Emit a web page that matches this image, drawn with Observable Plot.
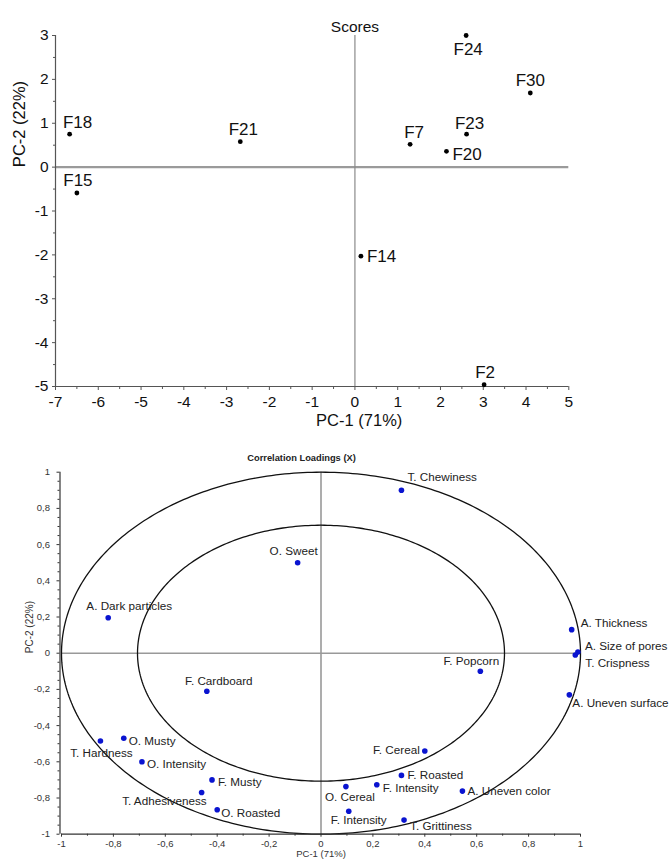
<!DOCTYPE html>
<html><head><meta charset="utf-8">
<script src="https://cdn.jsdelivr.net/npm/d3@7"></script>
<script src="https://cdn.jsdelivr.net/npm/@observablehq/plot@0.6"></script>
<style>
body{margin:0;background:#fff;font-family:Arial,"Liberation Sans",sans-serif;}
#chart{width:670px;height:860px;overflow:hidden;}
svg{display:block;}
</style></head><body><div id="chart"></div>
<script>
// ---- Scores (top) ----
const scoreNames = ["F24","F30","F23","F7","F20","F18","F21","F15","F14","F2"];
const scorePC1   = [2.6, 4.1, 2.61, 1.29, 2.14, -6.67, -2.68, -6.5, 0.14, 3.02];
const scorePC2   = [3.0, 1.69, 0.75, 0.52, 0.36, 0.75, 0.58, -0.59, -2.03, -4.96];
const scoreXTicks = [-7,-6,-5,-4,-3,-2,-1,0,1,2,3,4,5];
const scoreYTicks = [-5,-4,-3,-2,-1,0,1,2,3];

// ---- Correlation loadings (bottom) ----
const loadNames = ["T. Chewiness","O. Sweet","A. Dark particles","F. Cardboard","A. Thickness",
  "A. Size of pores","T. Crispness","F. Popcorn","A. Uneven surface","T. Hardness","O. Musty",
  "O. Intensity","F. Musty","T. Adhesiveness","O. Roasted","F. Cereal","F. Roasted","F. Intensity",
  "O. Cereal","F. Intensity","A. Uneven color","T. Grittiness"];
const loadPC1 = [0.31,-0.09,-0.82,-0.44,0.966,0.99,0.98,0.614,0.957,-0.85,-0.76,-0.69,-0.42,-0.46,-0.40,0.40,0.31,0.215,0.096,0.107,0.545,0.32];
const loadPC2 = [0.90,0.50,0.196,-0.21,0.13,0.006,-0.01,-0.10,-0.23,-0.485,-0.47,-0.60,-0.70,-0.77,-0.865,-0.54,-0.675,-0.727,-0.737,-0.873,-0.762,-0.922];
const loadTicks = [-1,-0.8,-0.6,-0.4,-0.2,0,0.2,0.4,0.6,0.8,1];
const circleRadii = [1, Math.SQRT1_2];

// ---- label placement (style, by index) ----
const scorePlace = [
  {a:"middle",dx:2,dy:14},{a:"middle",dx:0,dy:-12},{a:"middle",dx:3,dy:-11},{a:"middle",dx:4,dy:-12},
  {a:"start",dx:6,dy:3},{a:"middle",dx:8,dy:-12},{a:"middle",dx:3,dy:-12},{a:"middle",dx:1,dy:-12},
  {a:"start",dx:6,dy:0},{a:"middle",dx:1,dy:-12}];
const loadPlace = [
  {a:"start",dx:6,dy:-13},{a:"middle",dx:-4,dy:-11},{a:"middle",dx:21,dy:-11},{a:"middle",dx:12,dy:-10},
  {a:"start",dx:9,dy:-6},{a:"start",dx:7,dy:-6},{a:"start",dx:10,dy:8},{a:"middle",dx:-9,dy:-10},
  {a:"start",dx:3,dy:8},{a:"middle",dx:1,dy:12},{a:"start",dx:5,dy:3},{a:"start",dx:5,dy:2},
  {a:"start",dx:6,dy:2},{a:"end",dx:5,dy:9},{a:"start",dx:4,dy:3},{a:"end",dx:-5,dy:-1},
  {a:"start",dx:6,dy:0},{a:"start",dx:6,dy:3},{a:"middle",dx:4,dy:11},{a:"middle",dx:10,dy:9},
  {a:"start",dx:5,dy:0},{a:"start",dx:6,dy:6}];

const FONT = "Arial, 'Liberation Sans', sans-serif";
const scores = scoreNames.map((name,i)=>({name, x:scorePC1[i], y:scorePC2[i]}));
const loads = loadNames.map((name,i)=>({name, x:loadPC1[i], y:loadPC2[i]}));

const topMinorX = scoreXTicks.slice(0,-1).map(v=>v+0.5);
const topMinorY = scoreYTicks.slice(0,-1).map(v=>v+0.5);

const topPlot = Plot.plot({
  width:670, height:440, marginLeft:55, marginRight:101.7, marginTop:35, marginBottom:54,
  style:{fontFamily:FONT, color:"#111", background:"white", overflow:"visible"},
  x:{domain:[-7,5]}, y:{domain:[-5,3]},
  marks:[
    Plot.ruleY([0], {stroke:"#9a9a9a", strokeWidth:2.2}),
    Plot.ruleX([0], {stroke:"#8a8a8a", strokeWidth:1.2}),
    Plot.ruleX([-7], {stroke:"#555", strokeWidth:1.2}),
    Plot.ruleY([-5], {stroke:"#555", strokeWidth:1.2}),
    Plot.axisX({ticks:scoreXTicks, tickSize:4, tickPadding:5, tickFormat:d=>String(d), fontSize:15.5, label:null, stroke:"#555"}),
    Plot.axisX({ticks:topMinorX, tickSize:3, text:null, label:null, stroke:"#555"}),
    Plot.axisY({ticks:scoreYTicks, tickSize:3, tickPadding:4, tickFormat:d=>String(d), fontSize:15.5, label:null, stroke:"#555"}),
    Plot.axisY({ticks:topMinorY, tickSize:2, text:null, label:null, stroke:"#555"}),
    Plot.dot(scores, {x:"x", y:"y", r:2.4, fill:"#000", stroke:null}),
    ...scores.map((d,i)=>Plot.text([d], {x:"x", y:"y", text:"name", textAnchor:scorePlace[i].a,
        dx:scorePlace[i].dx, dy:scorePlace[i].dy, fontSize:17, fill:"#111"})),
    Plot.text([0], {x:d=>d, frameAnchor:"top", dy:-15, text:()=>"Scores", fontSize:15.5, fill:"#111"}),
    Plot.text([0.1], {x:d=>d, frameAnchor:"bottom", dy:39, text:()=>"PC-1 (71%)", fontSize:16.5, fill:"#111"}),
    Plot.text([0], {y:d=>d, frameAnchor:"left", dx:-36, rotate:-90, text:()=>"PC-2 (22%)", fontSize:16.5, fill:"#111"})
  ]
});

const circlePts = circleRadii.flatMap(r => d3.range(0, 361, 1).map(a => ({r, x:r*Math.cos(a*Math.PI/180), y:r*Math.sin(a*Math.PI/180)})));
const fmt = d => String(Math.round(d*100)/100).replace(".", ",");
const minorX = d3.range(-9, 10, 2).map(v=>v/10);
const minorY = d3.range(-19, 20, 1).filter(v=>v%4!==0).map(v=>v/20);

const botPlot = Plot.plot({
  width:670, height:420, marginLeft:61, marginRight:90, marginTop:31.7, marginBottom:26.3,
  style:{fontFamily:FONT, color:"#333", background:"white", overflow:"visible"},
  x:{domain:[-1,1]}, y:{domain:[-1,1]},
  marks:[
    Plot.ruleY([0], {stroke:"#999", strokeWidth:1.6}),
    Plot.ruleX([0], {stroke:"#999", strokeWidth:1.6}),
    Plot.line(circlePts, {x:"x", y:"y", z:"r", stroke:"#111", strokeWidth:1.3, curve:"linear"}),
    Plot.ruleX([-1], {stroke:"#333", strokeWidth:1.2, dx:-1.5}),
    Plot.ruleY([-1], {stroke:"#333", strokeWidth:1.2}),
    Plot.axisX({ticks:loadTicks, tickSize:3, tickPadding:3, tickFormat:fmt, fontSize:9.5, label:null, stroke:"#333", fill:"#333"}),
    Plot.axisX({ticks:minorX, tickSize:2, text:null, label:null, stroke:"#333"}),
    Plot.axisY({ticks:loadTicks, tickSize:3, tickPadding:7, tickFormat:fmt, fontSize:9.5, label:null, stroke:"#333", fill:"#333", dx:-1.5}),
    Plot.axisY({ticks:minorY, tickSize:2, text:null, label:null, stroke:"#333", dx:-1.5}),
    Plot.dot(loads, {x:"x", y:"y", r:2.8, fill:"#0a14d0", stroke:null}),
    ...loads.map((d,i)=>Plot.text([d], {x:"x", y:"y", text:"name", textAnchor:loadPlace[i].a,
        dx:loadPlace[i].dx, dy:loadPlace[i].dy, fontSize:11.7, fill:"#222"})),
    Plot.text([-0.075], {x:d=>d, frameAnchor:"top", dy:-17.7, text:()=>"Correlation Loadings (X)", fontSize:9.3, fontWeight:"bold", fill:"#222"}),
    Plot.text([0], {x:d=>d, frameAnchor:"bottom", dy:22.5, text:()=>"PC-1 (71%)", fontSize:9.5, fill:"#333"}),
    Plot.text([0], {y:d=>d, frameAnchor:"left", dx:-32, rotate:-90, text:()=>"PC-2 (22%)", fontSize:10, fill:"#333"})
  ]
});

const chart = document.getElementById("chart");
chart.appendChild(topPlot);
chart.appendChild(botPlot);
</script></body></html>
